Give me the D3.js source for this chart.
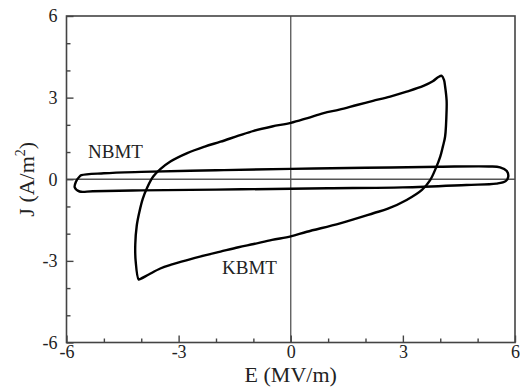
<!DOCTYPE html>
<html><head><meta charset="utf-8">
<script src="https://cdn.jsdelivr.net/npm/d3@7/dist/d3.min.js"></script>
<style>html,body{margin:0;padding:0;background:#fff;}svg{display:block;}</style>
</head><body>
<svg id="c" width="520" height="388"></svg>
<script>
const xTicks = [-6, -3, 0, 3, 6];
const yTicks = [-6, -3, 0, 3, 6];
const minorTicks = [-6,-5,-4,-3,-2,-1,0,1,2,3,4,5,6];

const kbmtE = [-4.07,-4.15,-4.16,-4.12,-4.05,-3.96,-3.84,-3.68,-3.49,-3.22,-2.77,-2.3,-1.88,-1.4,-0.99,-0.5,0,0.45,0.88,1.3,1.77,2.2,2.66,3.1,3.55,3.8,3.95,4.04,4.1,4.13,4.17,4.17,4.13,4.07,4.0,3.88,3.73,3.51,3.1,2.6,2.21,1.32,0.43,0,-0.5,-0.99,-1.4,-1.88,-2.3,-2.77,-3.2,-3.49,-3.8,-4.02];
const kbmtJ = [-3.68,-3.0,-2.4,-1.7,-1.2,-0.72,-0.3,0.1,0.37,0.65,0.96,1.2,1.38,1.6,1.78,1.94,2.07,2.25,2.43,2.56,2.73,2.88,3.04,3.22,3.43,3.6,3.76,3.8,3.65,3.41,2.9,2.55,1.57,1.2,0.83,0.4,-0.03,-0.39,-0.76,-1.08,-1.25,-1.62,-1.93,-2.1,-2.23,-2.38,-2.5,-2.66,-2.8,-2.97,-3.14,-3.28,-3.5,-3.66];

const nbmtE = [-5.6,-5.0,-4.0,-2.0,0,2.0,4.0,5.3,5.6,5.78,5.82,5.75,5.5,4.7,3.0,1.0,0,-2.0,-4.0,-5.3,-5.65,-5.78,-5.75,-5.65];
const nbmtJ = [0.15,0.22,0.27,0.33,0.38,0.42,0.46,0.47,0.44,0.3,0.1,-0.07,-0.16,-0.21,-0.3,-0.33,-0.35,-0.38,-0.41,-0.44,-0.45,-0.3,-0.1,0.1];

const svg = d3.select('#c');
const L = 66.5, R = 515, T = 16, B = 342.5;
const x = d3.scaleLinear().domain([-6, 6]).range([L, R]);
const y = d3.scaleLinear().domain([-6, 6]).range([B, T]);
const font = '"Liberation Serif","Times New Roman",serif';
const axisColor = '#444';
const fmt = d => String(d);

// zero lines
svg.append('line').attr('x1', x(0)).attr('x2', x(0)).attr('y1', T).attr('y2', B)
  .attr('stroke', '#555').attr('stroke-width', 1.3);
svg.append('line').attr('x1', L).attr('x2', R).attr('y1', y(0)).attr('y2', y(0))
  .attr('stroke', '#555').attr('stroke-width', 1.3);

// frame
svg.append('rect').attr('x', L).attr('y', T).attr('width', R - L).attr('height', B - T)
  .attr('fill', 'none').attr('stroke', axisColor).attr('stroke-width', 1.6);

// bottom axis
const xAxis = d3.axisBottom(x).tickValues(xTicks).tickSize(-7).tickPadding(3).tickFormat(fmt);
svg.append('g').attr('class', 'xa').attr('transform', `translate(0,${B})`).call(xAxis);
const xMinor = d3.axisBottom(x).tickValues(minorTicks.filter(d => xTicks.indexOf(d) < 0)).tickSize(-4).tickFormat('');
svg.append('g').attr('transform', `translate(0,${B})`).call(xMinor);

// left axis
const yAxis = d3.axisLeft(y).tickValues(yTicks).tickSize(-7).tickPadding(9).tickFormat(fmt);
svg.append('g').attr('transform', `translate(${L},0)`).call(yAxis);
const yMinor = d3.axisLeft(y).tickValues(minorTicks.filter(d => yTicks.indexOf(d) < 0)).tickSize(-4).tickFormat('');
svg.append('g').attr('transform', `translate(${L},0)`).call(yMinor);

svg.selectAll('.domain').remove();
svg.selectAll('.tick line').attr('stroke', axisColor).attr('stroke-width', 1.4);
svg.selectAll('.tick text').attr('font-family', font).attr('font-size', 18).attr('fill', '#222');

// curves
const line = d3.line().x(d => x(d[0])).y(d => y(d[1])).curve(d3.curveCatmullRomClosed.alpha(0.5));
svg.append('path').datum(nbmtE.map((e, i) => [e, nbmtJ[i]]))
  .attr('d', line).attr('fill', 'none').attr('stroke', '#000').attr('stroke-width', 2.4);
svg.append('path').datum(kbmtE.map((e, i) => [e, kbmtJ[i]]))
  .attr('d', line).attr('fill', 'none').attr('stroke', '#000').attr('stroke-width', 2.4);

// labels
svg.append('text').attr('x', 88).attr('y', 158).attr('font-family', font).attr('font-size', 19)
  .attr('fill', '#222').text('NBMT');
svg.append('text').attr('x', 222).attr('y', 274).attr('font-family', font).attr('font-size', 19)
  .attr('fill', '#222').text('KBMT');

// axis titles
svg.append('text').attr('x', (L + R) / 2).attr('y', 382).attr('text-anchor', 'middle')
  .attr('font-family', font).attr('font-size', 22).attr('fill', '#222').text('E (MV/m)');
const yt = svg.append('text').attr('transform', `translate(34,${(T + B) / 2}) rotate(-90)`)
  .attr('text-anchor', 'middle').attr('font-family', font).attr('font-size', 22).attr('fill', '#222');
yt.append('tspan').text('J (A/m');
yt.append('tspan').attr('dy', -9).attr('font-size', 14).text('2');
yt.append('tspan').attr('dy', 9).text(')');
</script>
</body></html>
